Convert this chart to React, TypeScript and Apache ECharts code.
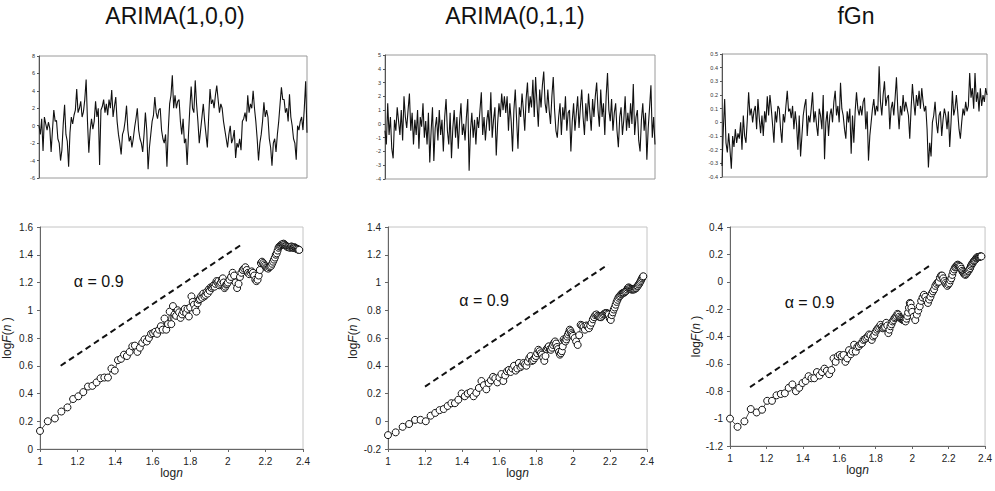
import React, { useEffect, useRef } from "react";
import * as echarts from "echarts";

const panelTitles = ["ARIMA(1,0,0)", "ARIMA(0,1,1)", "fGn"];

// Top row: simulated series
const seriesAR = [
  0, -1, 0.8, -2.9, 1.0, 0.2, -0.5, 0.4, -0.3, -3.0,
  -0.5, 1.8, 0.5, 0.6, -1.5, -2.0, -4.0, -2.8, 0.2, 2.4,
  -1.0, -1.8, -4.7, -0.8, 1.0, 0.2, 1.2, 1.8, 4.2, 1.5,
  2.0, 2.8, 1.0, 1.6, 3.0, 5.3, 0.5, -3.1, -0.5, 0.8,
  -0.4, 0.5, 2.8, 1.0, 2.0, -4.5, 1.8, 2.2, 3.0, 1.5,
  2.5, 1.2, 3.0, 2.0, 4.1, 1.0, 2.2, 3.3, 0.5, -1.0,
  -2.0, -3.3, -1.0, -0.5, 0.6, 2.3, -0.5, -1.8, -1.2, -2.5,
  -1.5, -0.2, 0.8, 2.0, -0.5, -1.5, -2.0, -3.0, -1.0, 1.5,
  -0.5, -5.0, -2.5, -1.0, 0.5, 1.2, 3.3, 1.5, 0.8, 1.8,
  2.0, -0.5, -1.5, -2.0, -1.0, -4.7, -0.5, 2.5, 3.5, 5.8,
  2.0, 3.5, 2.0, 2.8, 3.0, 0.5, -1.0, 0.8, -2.0, -1.5,
  -4.5, -1.0, 2.0, 4.5, 2.0, 1.5, 5.2, 2.5, 0.5, -2.0,
  -0.5, 1.0, 2.5, 0.5, -1.0, -2.5, 1.0, 4.2, 2.5, 3.0,
  2.0, 3.5, 4.6, 3.0, 1.5, 2.5, 2.0, 0.5, -0.5, -1.5,
  -2.5, -1.0, 0.0, -2.0, -1.5, -0.5, -3.7, -2.0, -2.5, -1.5,
  -2.8, 0.5, 0.8, 1.5, 0.5, 3.5, 1.5, 2.5, 2.0, 4.0,
  2.0, 0.5, -1.5, -4.0, -2.0, -1.0, 0.5, 2.7, 1.0, 1.8,
  1.0, -1.5, -2.5, -4.6, -2.0, -1.5, -3.0, -1.0, 0.5, 2.5,
  4.4, 3.0, 3.0, 1.5, 2.0, 0.5, 3.6, 1.0, 0.0, -1.5,
  -2.0, -3.9, 0.0, -0.5, 0.5, 1.0, -0.5, 2.0, 5.1, -0.8,
];

const seriesMA = [
  -0.5, -1.5, 1.5, -0.8, 0.5, -1.8, -2.5, 0.3, -0.5, 1.2,
  0.2, -0.8, 1.0, -1.2, 2.0, 0.5, -0.3, 1.0, 2.2, -0.5,
  0.8, -1.5, 0.3, -0.8, 1.0, -1.8, 0.5, -0.2, 1.5, -1.0,
  0.2, -1.5, 0.8, -2.8, -0.5, 1.2, -2.7, -0.3, 0.5, -1.2,
  1.0, -0.8, 0.3, -2.0, 0.5, 1.8, -0.5, -1.5, 0.8, -2.5,
  -0.3, 1.0, -1.0, 0.5, -1.8, 0.2, 1.5, -0.8, 0.0, -1.2,
  0.5, 1.8, -3.4, -0.5, 0.8, -1.0, 0.3, -1.5, 0.5, -0.3,
  1.0, 2.3, -0.8, 0.5, -1.2, 0.2, 1.0, -0.5, 2.3, -1.0,
  0.3, 1.2, -2.3, 0.0, 1.5, 0.5, 2.2, 1.0, 2.0, 0.8,
  2.0, -0.5, 1.5, 0.2, -2.0, 1.0, 2.5, 0.3, -1.8, 1.2,
  0.5, 2.2, 1.0, -0.5, 1.8, 3.0, 0.8, 2.0, 1.2, 3.2,
  0.5, 3.4, 1.5, -0.2, 2.5, 1.2, 2.8, 3.8, 1.5, 0.8,
  2.5, 1.0, 0.0, 2.0, 3.4, 1.0, -0.5, -1.0, 0.5, 1.5,
  -0.8, 1.2, 0.3, 2.0, -0.5, 0.8, 1.0, -2.0, 0.2, 1.5,
  -0.5, 0.8, 2.0, -0.3, 1.2, 2.5, 0.5, -0.8, 1.5, 0.2,
  2.2, 0.8, -0.5, 1.8, 0.5, 2.0, 3.0, 1.0, -0.2, 2.5,
  0.5, 1.5, -0.8, 2.0, 3.7, 1.0, 0.2, 1.8, -0.5, 0.8,
  1.5, -0.5, -1.7, 0.5, 1.2, -0.8, 0.3, 2.0, -0.5, 0.8,
  -0.3, 1.5, 0.0, 2.9, -0.8, 0.5, 1.0, -1.2, -2.0, 0.3,
  1.5, -0.5, 0.8, -2.6, -0.3, 1.2, 2.8, -1.0, 0.5, -1.5,
];

const seriesFGN = [
  -0.32, -0.05, 0.17, -0.15, -0.22, -0.08, -0.2, -0.34, -0.1, -0.18,
  -0.05, -0.15, -0.08, -0.12, 0.0, -0.2, 0.05, -0.1, -0.15, 0.02,
  0.22, 0.05, 0.1, 0.0, 0.08, 0.12, -0.05, 0.17, 0.03, -0.08,
  0.05, -0.1, 0.08, 0.0, 0.19, 0.05, 0.2, 0.1, -0.02, -0.15,
  0.08, 0.0, 0.12, 0.1, -0.05, -0.15, 0.06, 0.0, 0.12, 0.23,
  0.08, 0.1, 0.03, 0.12, -0.05, 0.08, -0.02, -0.2, 0.05, -0.25,
  -0.1, 0.05, 0.12, 0.17, -0.1, 0.05, 0.0, 0.1, 0.22, 0.0,
  0.08, -0.02, -0.1, 0.1, 0.05, -0.05, 0.2, -0.27, 0.0, 0.08,
  -0.1, 0.05, 0.1, 0.0, 0.15, 0.23, 0.05, 0.12, 0.0, 0.29,
  0.1, 0.05, -0.05, -0.12, 0.08, 0.0, 0.1, -0.23, 0.05, -0.15,
  0.08, 0.22, 0.1, 0.05, 0.12, 0.05, 0.15, 0.18, -0.05, 0.08,
  -0.28, -0.1, 0.0, 0.1, 0.17, 0.05, 0.12, 0.08, 0.41, 0.15,
  0.05, 0.2, 0.3, 0.12, 0.18, 0.2, -0.05, 0.1, 0.15, 0.05,
  0.18, 0.33, 0.1, -0.05, 0.12, 0.05, 0.2, 0.08, 0.15, 0.1,
  0.05, -0.12, 0.1, 0.28, 0.15, 0.05, 0.2, 0.12, 0.23, 0.1,
  0.25, 0.15, 0.08, 0.12, -0.05, -0.33, -0.15, -0.25, 0.0, 0.05,
  0.15, 0.0, -0.08, 0.05, 0.08, -0.1, 0.02, 0.1, 0.05, -0.05,
  0.08, -0.18, 0.0, 0.23, 0.05, 0.1, 0.2, 0.08, -0.05, -0.12,
  0.0, 0.1, 0.05, 0.15, 0.08, 0.12, 0.36, 0.18, 0.25, 0.1,
  0.36, 0.15, 0.22, 0.08, 0.25, 0.12, 0.2, 0.15, 0.25, 0.2,
];

// Bottom row: DFA, window sizes n (x = log n)
const windowSizes = [
  10, 11, 12, 13, 14, 15, 16, 17, 18, 19, 20, 21, 22, 23, 24, 25, 26, 27, 28, 29,
  30, 31, 32, 33, 34, 35, 36, 37, 38, 39, 40, 41, 42, 43, 44, 45, 46, 47, 48, 49,
  50, 51, 52, 53, 54, 55, 56, 57, 58, 59, 60, 61, 62, 63, 64, 65, 66, 67, 68, 69,
  70, 71, 72, 73, 74, 75, 76, 77, 78, 79, 80, 81, 82, 83, 84, 85, 86, 87, 88, 89,
  90, 91, 92, 93, 94, 95, 96, 97, 98, 99, 100,
  102, 104, 106, 108, 110, 112, 114, 116, 118, 120, 122, 124, 126, 128, 130,
  132, 134, 136, 138, 140, 142, 144, 146, 148, 150, 152, 154, 156, 158, 160,
  162, 164, 166, 168, 170, 172, 174, 176, 178, 180, 182, 184, 186, 188, 190,
  192, 194, 196, 198, 200, 202, 204, 206, 208, 210, 212, 214, 216, 218, 220,
  222, 224, 226, 228, 230, 232, 234, 236, 238, 240,
];

const logFAR = [
  0.13, 0.20, 0.22, 0.27, 0.30, 0.36, 0.38, 0.41, 0.45, 0.455,
  0.48, 0.51, 0.515, 0.515, 0.58, 0.565, 0.64, 0.65, 0.68, 0.67,
  0.70, 0.74, 0.745, 0.70, 0.73, 0.765, 0.79, 0.775, 0.80, 0.83,
  0.835, 0.845, 0.83, 0.86, 0.885, 0.86, 0.94, 0.86, 0.90, 0.99,
  0.90, 1.03, 0.97, 0.96, 1.00, 0.985, 0.945, 0.97, 0.99, 1.01,
  0.98, 1.01, 0.955, 1.02, 1.10, 1.06, 1.04, 1.01, 0.99, 1.05,
  1.075, 1.08, 1.10, 1.09, 1.12, 1.10, 1.11, 1.13, 1.12, 1.15,
  1.14, 1.165, 1.16, 1.17, 1.18, 1.17, 1.19, 1.21, 1.20, 1.21,
  1.18, 1.19, 1.20, 1.22, 1.23, 1.20, 1.16, 1.17, 1.185, 1.19,
  1.20,
  1.22, 1.24, 1.27, 1.25, 1.20, 1.16, 1.19, 1.24, 1.27, 1.29,
  1.30, 1.31, 1.29, 1.27, 1.26, 1.27, 1.28, 1.27, 1.25, 1.22,
  1.21, 1.22, 1.25, 1.29, 1.34, 1.35, 1.34, 1.33, 1.32, 1.31,
  1.305, 1.30, 1.31, 1.315, 1.32, 1.335, 1.35, 1.365, 1.38, 1.40,
  1.41, 1.43, 1.45, 1.46, 1.465, 1.47, 1.475, 1.475, 1.48, 1.475,
  1.47, 1.465, 1.46, 1.455, 1.455, 1.455, 1.45, 1.455, 1.46, 1.455,
  1.45, 1.45, 1.455, 1.45, 1.445, 1.445, 1.44, 1.44, 1.435, 1.435,
];

const logFMA = [
  -0.10, -0.08, -0.04, -0.02, 0.01, 0.01, 0.00, 0.04, 0.06, 0.08,
  0.088, 0.11, 0.13, 0.13, 0.155, 0.20, 0.18, 0.20, 0.21, 0.18,
  0.205, 0.24, 0.29, 0.26, 0.23, 0.275, 0.295, 0.32, 0.31, 0.28,
  0.315, 0.34, 0.29, 0.33, 0.36, 0.37, 0.355, 0.38, 0.40, 0.365,
  0.38, 0.42, 0.39, 0.40, 0.42, 0.41, 0.40, 0.43, 0.455, 0.47,
  0.435, 0.44, 0.455, 0.47, 0.49, 0.515, 0.505, 0.49, 0.48, 0.46,
  0.435, 0.47, 0.52, 0.53, 0.54, 0.52, 0.515, 0.53, 0.55, 0.565,
  0.575, 0.56, 0.535, 0.52, 0.50, 0.48, 0.49, 0.505, 0.54, 0.59,
  0.58, 0.575, 0.59, 0.61, 0.625, 0.64, 0.66, 0.65, 0.635, 0.625,
  0.615,
  0.60, 0.575, 0.55, 0.62, 0.695, 0.69, 0.68, 0.66, 0.69, 0.685,
  0.67, 0.69, 0.71, 0.735, 0.75, 0.765, 0.77, 0.76, 0.755, 0.75,
  0.75, 0.76, 0.77, 0.775, 0.78, 0.78, 0.775, 0.77, 0.74, 0.73,
  0.765, 0.785, 0.805, 0.82, 0.84, 0.86, 0.875, 0.89, 0.90, 0.905,
  0.915, 0.92, 0.925, 0.925, 0.93, 0.935, 0.94, 0.95, 0.96, 0.965,
  0.96, 0.955, 0.95, 0.95, 0.95, 0.95, 0.95, 0.955, 0.96, 0.96,
  0.97, 0.975, 0.985, 0.99, 1.00, 1.01, 1.02, 1.03, 1.04, 1.045,
];

const logFFGN = [
  -1.00, -1.06, -1.02, -0.93, -0.955, -0.935, -0.87, -0.87, -0.83, -0.82,
  -0.815, -0.775, -0.75, -0.80, -0.775, -0.74, -0.725, -0.69, -0.705, -0.705,
  -0.66, -0.685, -0.66, -0.635, -0.65, -0.675, -0.645, -0.56, -0.585, -0.545,
  -0.535, -0.545, -0.535, -0.585, -0.56, -0.50, -0.53, -0.51, -0.46, -0.51,
  -0.475, -0.47, -0.455, -0.45, -0.425, -0.42, -0.41, -0.40, -0.385, -0.39,
  -0.425, -0.40, -0.39, -0.365, -0.35, -0.34, -0.33, -0.315, -0.33, -0.34,
  -0.335, -0.33, -0.30, -0.32, -0.375, -0.35, -0.325, -0.31, -0.29, -0.28,
  -0.265, -0.26, -0.25, -0.235, -0.24, -0.255, -0.265, -0.27, -0.275, -0.28,
  -0.28, -0.285, -0.29, -0.27, -0.25, -0.225, -0.19, -0.155, -0.16, -0.19,
  -0.22,
  -0.255, -0.28, -0.24, -0.21, -0.18, -0.14, -0.115, -0.095, -0.11, -0.135,
  -0.155, -0.13, -0.11, -0.085, -0.07, -0.055, -0.03, -0.015, -0.005, 0.00,
  0.03, 0.045, 0.045, 0.025, 0.005, -0.01, -0.02, -0.03, -0.02, -0.01,
  0.01, 0.025, 0.05, 0.075, 0.09, 0.105, 0.11, 0.12, 0.125, 0.12,
  0.115, 0.11, 0.095, 0.08, 0.07, 0.06, 0.055, 0.05, 0.055, 0.065,
  0.075, 0.08, 0.09, 0.10, 0.115, 0.125, 0.135, 0.14, 0.15, 0.155,
  0.16, 0.17, 0.175, 0.18, 0.18, 0.18, 0.182, 0.185, 0.185, 0.185,
];

// Reference slope lines (alpha = 0.9)
const slopeAR = [[1.11, 0.6], [2.08, 1.48]];
const slopeMA = [[1.2, 0.25], [2.19, 1.13]];
const slopeFGN = [[1.11, -0.77], [2.11, 0.13]];
const alphaLabel = "α = 0.9";
const alphaAnchors = [[1.18, 1.21], [1.385, 0.87], [1.3, -0.15]];

const topAxes = [
  { min: -6, max: 8, interval: 2 },
  { min: -4, max: 5, interval: 1 },
  { min: -0.4, max: 0.5, interval: 0.1 },
];
const bottomAxes = [
  { min: 0, max: 1.6, interval: 0.2 },
  { min: -0.2, max: 1.4, interval: 0.2 },
  { min: -1.2, max: 0.4, interval: 0.2 },
];

const FONT = "'Liberation Sans', Arial, Helvetica, sans-serif";

export default function App() {
  const ref = useRef<HTMLDivElement>(null);

  useEffect(() => {
    if (!ref.current) return;
    const chart = echarts.init(ref.current, null, { renderer: "svg" });

    const topGrids = [
      { left: 39, top: 56, width: 268, height: 122 },
      { left: 385, top: 55, width: 270, height: 124 },
      { left: 722, top: 54, width: 265, height: 123 },
    ];
    const bottomGrids = [
      { left: 40, top: 227, width: 263, height: 222 },
      { left: 388, top: 227, width: 259, height: 222 },
      { left: 730, top: 227, width: 257, height: 219 },
    ];
    const yNameGaps = [27, 29, 28];
    const topSeries = [seriesAR, seriesMA, seriesFGN];
    const dfaSeries = [logFAR, logFMA, logFFGN];
    const slopes = [slopeAR, slopeMA, slopeFGN];
    const logN = windowSizes.map((n) => Math.log10(n));

    const grid: any[] = [];
    const xAxis: any[] = [];
    const yAxis: any[] = [];
    const series: any[] = [];

    topGrids.forEach((g, k) => {
      grid.push({ ...g, show: true, borderColor: "#9a9a9a", borderWidth: 1, backgroundColor: "transparent" });
      xAxis.push({
        type: "category",
        gridIndex: k,
        data: topSeries[k].map((_, i) => i),
        boundaryGap: false,
        axisLine: { show: false },
        axisTick: { show: false },
        axisLabel: { show: false },
        splitLine: { show: false },
      });
      yAxis.push({
        type: "value",
        gridIndex: k,
        ...topAxes[k],
        axisLine: { show: true, onZero: false, lineStyle: { color: "#555", width: 1 } },
        axisTick: { show: true, length: 2, lineStyle: { color: "#555" } },
        axisLabel: { fontSize: 5.5, color: "#333", margin: 4, fontFamily: FONT },
        splitLine: { show: false },
      });
      series.push({
        type: "line",
        xAxisIndex: k,
        yAxisIndex: k,
        data: topSeries[k],
        showSymbol: false,
        symbol: "none",
        lineStyle: { color: "#111", width: 1.1 },
      });
    });

    bottomGrids.forEach((g, j) => {
      const k = j + 3;
      grid.push({ ...g, show: true, borderColor: "#c4c4c4", borderWidth: 1, backgroundColor: "transparent" });
      xAxis.push({
        type: "value",
        gridIndex: k,
        min: 1,
        max: 2.4,
        interval: 0.2,
        name: "{a|log}{i|n}",
        nameLocation: "middle",
        nameGap: 17,
        nameTextStyle: {
          rich: {
            a: { fontSize: 12, fontFamily: FONT, color: "#222" },
            i: { fontSize: 12, fontFamily: FONT, fontStyle: "italic", color: "#222" },
          },
        },
        axisLine: { show: true, onZero: false, lineStyle: { color: "#666", width: 1 } },
        axisTick: { show: true, length: 3, lineStyle: { color: "#666" } },
        axisLabel: { fontSize: 10, color: "#222", margin: 7, fontFamily: FONT },
        splitLine: { show: false },
      });
      yAxis.push({
        type: "value",
        gridIndex: k,
        ...bottomAxes[j],
        name: "{a|log}{i|F}{a|(}{i|n}{a| )}",
        nameLocation: "middle",
        nameGap: yNameGaps[j],
        nameTextStyle: {
          rich: {
            a: { fontSize: 12, fontFamily: FONT, color: "#222" },
            i: { fontSize: 12, fontFamily: FONT, fontStyle: "italic", color: "#222" },
          },
        },
        axisLine: { show: true, onZero: false, lineStyle: { color: "#666", width: 1 } },
        axisTick: { show: true, length: 3, lineStyle: { color: "#666" } },
        axisLabel: { fontSize: 10, color: "#222", margin: 7, fontFamily: FONT },
        splitLine: { show: false },
      });
      series.push({
        type: "line",
        xAxisIndex: k,
        yAxisIndex: k,
        data: dfaSeries[j].map((v, i) => [logN[i], v]),
        symbol: "circle",
        symbolSize: 7,
        showSymbol: true,
        itemStyle: { color: "#fff", borderColor: "#111", borderWidth: 1 },
        lineStyle: { color: "#222", width: 0.8 },
        z: 3,
      });
      series.push({
        type: "line",
        xAxisIndex: k,
        yAxisIndex: k,
        data: slopes[j],
        symbol: "none",
        lineStyle: { color: "#111", width: 2, type: [6, 4] },
        z: 2,
      });
    });

    chart.setOption({
      animation: false,
      backgroundColor: "#fff",
      textStyle: { fontFamily: FONT },
      grid,
      xAxis,
      yAxis,
      series,
    });

    const titleX = [175, 515, 856];
    const graphic: any[] = titleX.map((x, k) => ({
      type: "text",
      x,
      y: 16,
      style: {
        text: panelTitles[k],
        fontSize: 23,
        fontFamily: FONT,
        fill: "#111",
        align: "center",
        verticalAlign: "middle",
      },
    }));
    alphaAnchors.forEach((p, j) => {
      const px = chart.convertToPixel({ gridIndex: j + 3 } as any, p) as number[];
      graphic.push({
        type: "text",
        x: px[0],
        y: px[1],
        style: {
          text: alphaLabel,
          fontSize: 16,
          fontFamily: FONT,
          fill: "#111",
          align: "left",
          verticalAlign: "middle",
        },
      });
    });
    chart.setOption({ graphic });

    return () => chart.dispose();
  }, []);

  return (
    <div
      ref={ref}
      style={{ position: "absolute", left: 0, top: 0, width: 995, height: 491, background: "#fff" }}
    />
  );
}
